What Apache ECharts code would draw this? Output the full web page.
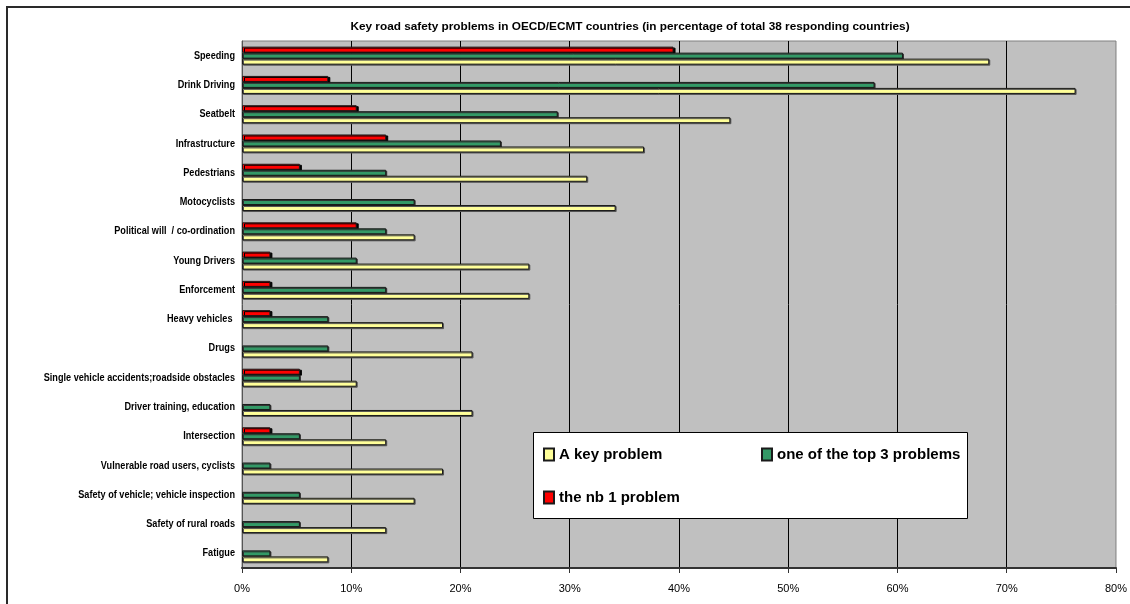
<!DOCTYPE html>
<html>
<head>
<meta charset="utf-8">
<script src="https://cdn.jsdelivr.net/npm/echarts@6/dist/echarts.min.js"></script>
<style>
  html, body { margin: 0; padding: 0; background: #ffffff; }
  #chart { width: 1130px; height: 604px; }
</style>
</head>
<body>
<div id="chart"></div>
<script>
// Road safety problems, top to bottom, share of the 38 responding countries (%)
const categories = [
  'Speeding', 'Drink Driving', 'Seatbelt', 'Infrastructure', 'Pedestrians',
  'Motocyclists', 'Political will  / co-ordination', 'Young Drivers', 'Enforcement',
  'Heavy vehicles ', 'Drugs', 'Single vehicle accidents;roadside obstacles',
  'Driver training, education', 'Intersection', 'Vulnerable road users, cyclists',
  'Safety of vehicle; vehicle inspection', 'Safety of rural roads', 'Fatigue'
];
const keyProblem = [68.4, 76.3, 44.7, 36.8, 31.6, 34.2, 15.8, 26.3, 26.3, 18.4, 21.1, 10.5, 21.1, 13.2, 18.4, 15.8, 13.2, 7.9];
const top3Problem = [60.5, 57.9, 28.9, 23.7, 13.2, 15.8, 13.2, 10.5, 13.2, 7.9, 7.9, 5.3, 2.6, 5.3, 2.6, 5.3, 5.3, 2.6];
const nb1Problem = [39.5, 7.9, 10.5, 13.2, 5.3, 0, 10.5, 2.6, 2.6, 2.6, 0, 5.3, 0, 2.6, 0, 0, 0, 0];
const seriesNames = ['A key problem', 'one of the top 3 problems', 'the nb 1 problem'];
const xTicks = { min: 0, max: 80, interval: 10 };

const chart = echarts.init(document.getElementById('chart'));

const bodyFont = "'Liberation Sans', Arial, sans-serif";

const barStyle = (color, shadow, dx, dy) => ({
  color: color,
  borderColor: '#1a1a1a',
  borderWidth: 1,
  shadowColor: shadow,
  shadowBlur: 0,
  shadowOffsetX: dx,
  shadowOffsetY: dy
});

// empty answers are left out instead of drawn as zero-length bars
const asBars = (arr) => arr.map(v => (v === 0 ? '-' : v));

const makeSeries = (name, data, style) => ({
  name: name,
  type: 'bar',
  data: asBars(data),
  barWidth: 6,
  barGap: '0%',
  itemStyle: style,
  emphasis: { disabled: true },
  animation: false
});

const staticGraphics = [
  {
    type: 'rect', silent: true, z: 1,
    shape: { x: 7, y: 7, width: 1200, height: 700 },
    style: { fill: null, stroke: '#2a2a2a', lineWidth: 2 }
  },
  {
    type: 'rect', silent: true, z: 9,
    shape: { x: 533.5, y: 432.5, width: 434, height: 86 },
    style: { fill: '#ffffff', stroke: '#000000', lineWidth: 1 }
  }
];

const legendText = { fontFamily: bodyFont, fontWeight: 'bold', fontSize: 15, color: '#000000' };

chart.setOption({
  backgroundColor: '#ffffff',
  animation: false,
  title: {
    text: 'Key road safety problems in OECD/ECMT countries (in percentage of total 38 responding countries)',
    left: 625,
    top: 16,
    textAlign: 'center',
    textStyle: { fontFamily: bodyFont, fontWeight: 'bold', fontSize: 11.8, color: '#000000' }
  },
  grid: {
    left: 242, right: 9, top: 41, bottom: 36,
    show: true,
    backgroundColor: '#c0c0c0',
    borderColor: '#808080',
    borderWidth: 1,
    containLabel: false
  },
  legend: [
    {
      data: [seriesNames[0], seriesNames[2]],
      orient: 'vertical',
      left: 543, top: 447,
      padding: 0,
      itemGap: 28,
      itemWidth: 10, itemHeight: 12,
      icon: 'rect',
      selectedMode: false,
      textStyle: legendText,
      z: 10
    },
    {
      data: [seriesNames[1]],
      orient: 'vertical',
      left: 761, top: 447,
      padding: 0,
      itemWidth: 10, itemHeight: 12,
      icon: 'rect',
      selectedMode: false,
      textStyle: legendText,
      z: 10
    }
  ],
  graphic: staticGraphics,
  xAxis: {
    type: 'value',
    min: xTicks.min, max: xTicks.max, interval: xTicks.interval,
    axisLine: { show: true, lineStyle: { color: '#333333', width: 2 } },
    axisTick: { show: true, length: 5, lineStyle: { color: '#333333' } },
    axisLabel: {
      formatter: '{value}%', margin: 15,
      fontFamily: bodyFont, fontSize: 11, color: '#000000'
    },
    splitLine: { show: true, showMinLine: false, showMaxLine: false, lineStyle: { color: '#000000', width: 1 } }
  },
  yAxis: {
    type: 'category',
    data: categories,
    inverse: true,
    axisLine: { show: true, lineStyle: { color: '#555555', width: 1 } },
    axisTick: { show: false },
    // category names are drawn below as condensed text
    axisLabel: { show: false },
    splitLine: { show: false }
  },
  series: [
    makeSeries(seriesNames[2], nb1Problem, barStyle('#ff0000', '#000000', 2, 1)),
    makeSeries(seriesNames[1], top3Problem, barStyle('#339966', '#333333', 1, 1)),
    makeSeries(seriesNames[0], keyProblem, barStyle('#ffff99', '#555555', 1, 1))
  ]
});

// Condensed bold category names, right-aligned against the value axis
const labelGraphics = categories.map((name) => ({
  type: 'text',
  silent: true,
  z: 5,
  x: 235,
  y: chart.convertToPixel({ yAxisIndex: 0 }, name),
  scaleX: 0.83,
  style: {
    text: name,
    align: 'right',
    verticalAlign: 'middle',
    fontFamily: bodyFont,
    fontWeight: 'bold',
    fontSize: 11,
    fill: '#000000'
  }
}));

chart.setOption({ graphic: staticGraphics.concat(labelGraphics) });
</script>
</body>
</html>
